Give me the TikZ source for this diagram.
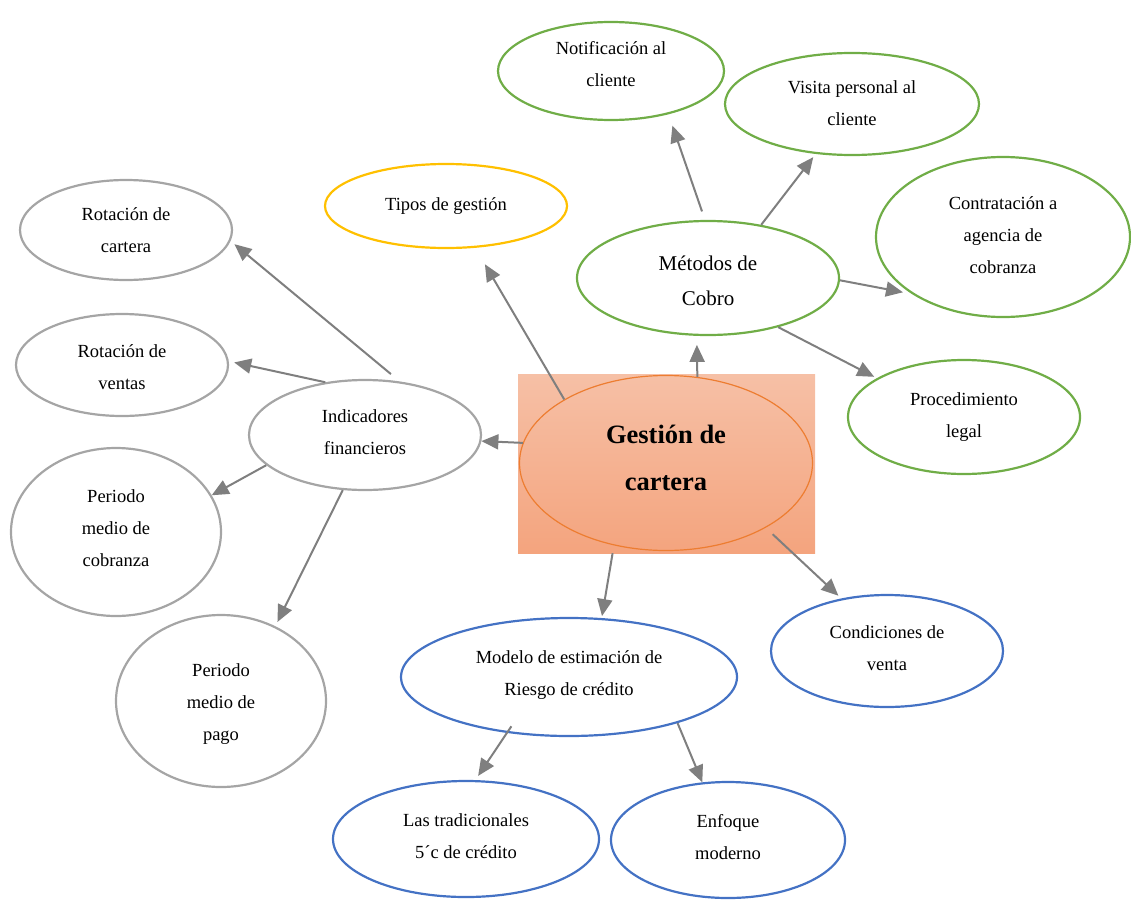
\documentclass[tikz,border=0pt]{standalone}
\usepackage{fontspec}
\setmainfont{Liberation Serif}
\usetikzlibrary{shapes.geometric,arrows.meta}
\definecolor{cgreen}{HTML}{70AD47}
\definecolor{cyellow}{HTML}{FFC000}
\definecolor{cgrayb}{HTML}{A5A5A5}
\definecolor{cblue}{HTML}{4472C4}
\definecolor{corange}{HTML}{ED7D31}
\definecolor{carrow}{HTML}{7F7F7F}
\definecolor{ctop}{HTML}{F6C0A6}
\definecolor{cbottom}{HTML}{F4A47E}
\begin{document}
\begin{tikzpicture}[x=1pt,y=-1pt,
  bubble/.style={ellipse, draw, line width=2.2pt, inner sep=0pt},
  greenb/.style={bubble, draw=cgreen},
  yellowb/.style={bubble, draw=cyellow},
  grayb/.style={bubble, draw=cgrayb},
  blueb/.style={bubble, draw=cblue},
  sz/.style 2 args={minimum width=#1pt, minimum height=#2pt},
  txt/.style={inner sep=0pt, align=center, font=\fontsize{18.5}{32}\selectfont},
  link/.style={draw=carrow, line width=2pt, -{Triangle[length=17pt,width=15pt]}}]
\useasboundingbox (0,0) rectangle (1131,899);

% central topic
\node[rectangle, draw=none, inner sep=0pt, sz={297}{179}, top color=ctop, bottom color=cbottom] (gbox) at (666.5,463.5) {};
\node[ellipse, draw=corange, line width=1.2pt, inner sep=0pt, sz={293}{175}] (gestion) at (666,463) {};
\node[txt, font=\bfseries\fontsize{26.5}{47}\selectfont] (gestion-t) at ([yshift=5pt]gestion.center) {Gestión de\\cartera};

% collection methods
\node[greenb, sz={226}{98}] (notif) at (611,71) {};
\node[txt] (notif-t) at ([yshift=7pt]notif.center) {Notificación al\\cliente};
\node[greenb, sz={254}{102}] (visita) at (852,104) {};
\node[txt] (visita-t) at ([yshift=1pt]visita.center) {Visita personal al\\cliente};
\node[greenb, sz={254}{160}] (agencia) at (1003,237) {};
\node[txt] (agencia-t) at ([yshift=2pt]agencia.center) {Contratación a\\agencia de\\cobranza};
\node[greenb, sz={262}{114}] (metodos) at (708,278) {};
\node[txt, font=\fontsize{21}{35}\selectfont] (metodos-t) at ([yshift=-3pt]metodos.center) {Métodos de\\Cobro};
\node[greenb, sz={232}{114}] (legal) at (964,417) {};
\node[txt] (legal-t) at (legal.center) {Procedimiento\\legal};

% management types
\node[yellowb, sz={242}{84}] (tipos) at (446,206) {};
\node[txt] (tipos-t) at (tipos.center) {Tipos de gestión};

% financial indicators
\node[grayb, sz={212}{100}] (rotcart) at (126,230) {};
\node[txt] (rotcart-t) at (rotcart.center) {Rotación de\\cartera};
\node[grayb, sz={212}{102}] (rotvent) at (122,365) {};
\node[txt] (rotvent-t) at ([yshift=-2pt]rotvent.center) {Rotación de\\ventas};
\node[grayb, sz={232}{110}] (indic) at (365,435) {};
\node[txt] (indic-t) at ([yshift=3pt]indic.center) {Indicadores\\financieros};
\node[grayb, sz={210}{168}] (pcobro) at (116,532) {};
\node[txt] (pcobro-t) at ([yshift=4pt]pcobro.center) {Periodo\\medio de\\cobranza};
\node[grayb, sz={210}{172}] (ppago) at (221,701) {};
\node[txt] (ppago-t) at ([yshift=-3pt]ppago.center) {Periodo\\medio de\\pago};

% credit risk
\node[blueb, sz={336}{118}] (modelo) at (569,677) {};
\node[txt] (modelo-t) at ([yshift=2pt]modelo.center) {Modelo de estimación de\\Riesgo de crédito};
\node[blueb, sz={232}{112}] (cond) at (887,651) {};
\node[txt] (cond-t) at ([yshift=3pt]cond.center) {Condiciones de\\venta};
\node[blueb, sz={266}{116}] (trad) at (466,839) {};
\node[txt] (trad-t) at ([yshift=3pt]trad.center) {Las tradicionales\\5´c de crédito};
\node[blueb, sz={234}{116}] (enfoque) at (728,840) {};
\node[txt] (enfoque-t) at ([yshift=3pt]enfoque.center) {Enfoque\\moderno};

% connectors
\draw[link, shorten <=9pt, shorten >=12pt] (metodos.93.5) -- (notif.-37.4);
\draw[link, shorten >=4pt] (metodos.45) -- (visita.-126.1);
\draw[link, shorten >=9pt] (metodos.-1.7) -- (agencia.-148.9);
\draw[link, shorten >=3pt] (metodos.-35.9) -- (legal.156.7);
\draw[link, shorten >=9pt] (gestion.70.6) -- (metodos.-101.2);
\draw[link, shorten >=19pt] (gestion.148.8) -- (tipos.-55.2);
\draw[link] (gestion.172.6) -- (indic.-3);
\draw[link, shorten >=2pt] (gbox.-121.8) -- (modelo.61.6);
\draw[link, shorten <=9.5pt, shorten >=4pt] (gestion.-33.3) -- (cond.131.95);
\draw[link, shorten <=11.5pt, shorten >=5pt] (indic.57.25) -- (rotcart.-6.5);
\draw[link, shorten >=5.5pt] (indic.127.6) -- (rotvent.2.3);
\draw[link] (indic.-163) -- (pcobro.21.3);
\draw[link, shorten >=4.7pt] (indic.-112.3) -- (ppago.54.4);
\draw[link, shorten <=-8pt, shorten >=5pt] (modelo.-138.7) -- (trad.81.1);
\draw[link] (modelo.-23.7) -- (enfoque.114.7);
\end{tikzpicture}
\end{document}
